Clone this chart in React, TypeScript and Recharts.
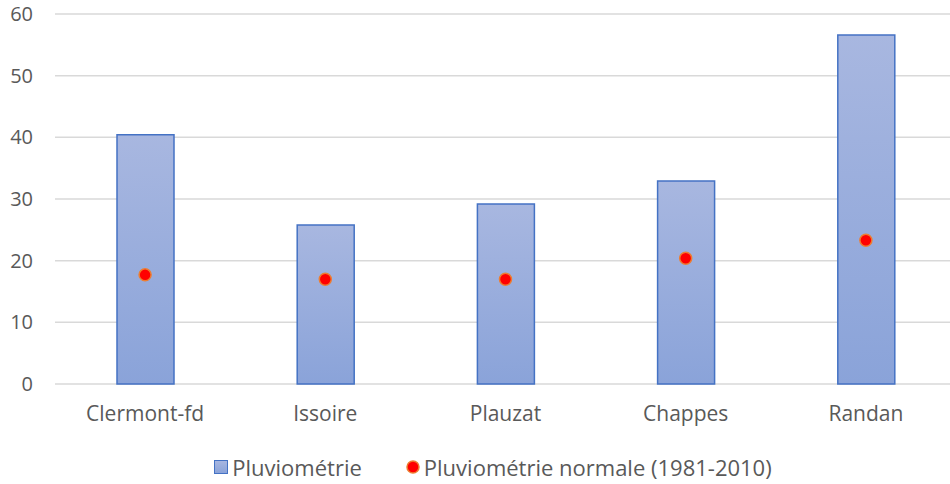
import { ComposedChart, Bar, Line, XAxis, YAxis, CartesianGrid, Legend } from 'recharts'

const stations = ['Clermont-fd', 'Issoire', 'Plauzat', 'Chappes', 'Randan']
const pluvio = [40.4, 25.8, 29.2, 32.9, 56.6]
const pluvioNormale = [17.7, 17.0, 17.0, 20.4, 23.3]
const yTicks = [0, 10, 20, 30, 40, 50, 60]

const data = stations.map((name, i) => ({
  name,
  pluvio: pluvio[i],
  normale: pluvioNormale[i],
}))

const font = '"Open Sans", "Noto Sans", sans-serif'
const textColor = '#595959'

function LegendContent() {
  return (
    <div
      style={{
        display: 'flex',
        justifyContent: 'center',
        alignItems: 'center',
        fontFamily: font,
        fontSize: 22,
        color: textColor,
        height: 24,
        paddingLeft: 30,
      }}
    >
      <span style={{ display: 'flex', alignItems: 'center', marginRight: 44 }}>
        <span
          style={{
            width: 12,
            height: 12,
            background: 'linear-gradient(#a7b6e0, #8aa3d9)',
            border: '1px solid #4472c4',
            marginRight: 4,
            display: 'inline-block',
          }}
        />
        Pluviométrie
      </span>
      <span style={{ display: 'flex', alignItems: 'center' }}>
        <svg width={14} height={14} style={{ marginRight: 4 }}>
          <circle cx={7} cy={7} r={6} fill="#ff0000" stroke="#ed7d31" strokeWidth={1.5} />
        </svg>
        Pluviométrie normale (1981-2010)
      </span>
    </div>
  )
}

export default function App() {
  return (
    <div style={{ position: 'absolute', left: 0, top: 0, width: 950, height: 484, overflow: 'hidden', background: '#fff' }}>
      <ComposedChart
        width={950}
        height={484}
        data={data}
        margin={{ top: 14, right: -6, bottom: 5, left: 0 }}
      >
        <defs>
          <linearGradient id="barFill" x1="0" y1="0" x2="0" y2="1">
            <stop offset="0%" stopColor="#a8b7e0" />
            <stop offset="100%" stopColor="#8aa3d9" />
          </linearGradient>
        </defs>
        <CartesianGrid vertical={false} stroke="#d9d9d9" strokeWidth={1.5} />
        <XAxis
          dataKey="name"
          axisLine={false}
          tickLine={false}
          height={71}
          tickMargin={16}
          tick={{ fontSize: 21, fill: textColor, fontFamily: font }}
        />
        <YAxis
          domain={[0, 60]}
          ticks={yTicks}
          width={55}
          axisLine={false}
          tickLine={false}
          tickMargin={16}
          tick={{ fontSize: 20, fill: textColor, fontFamily: font }}
        />
        <Legend verticalAlign="bottom" height={24} content={<LegendContent />} />
        <Bar
          dataKey="pluvio"
          name="Pluviométrie"
          barSize={57}
          fill="url(#barFill)"
          stroke="#4472c4"
          strokeWidth={1.5}
          isAnimationActive={false}
        />
        <Line
          dataKey="normale"
          name="Pluviométrie normale (1981-2010)"
          stroke="none"
          dot={{ r: 6, fill: '#ff0000', stroke: '#ed7d31', strokeWidth: 1.5 }}
          activeDot={false}
          isAnimationActive={false}
        />
      </ComposedChart>
    </div>
  )
}
